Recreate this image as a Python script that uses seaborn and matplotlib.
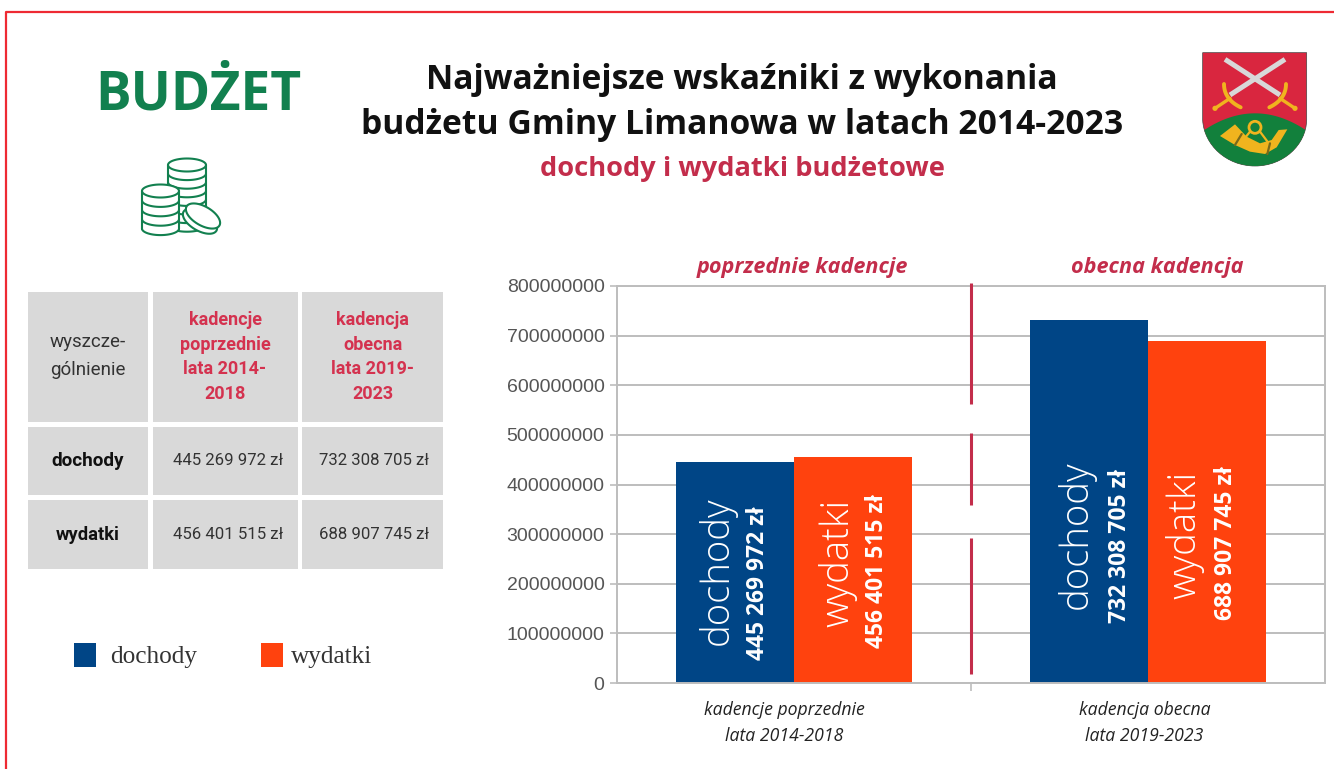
#!/usr/bin/env python3
"""Budget chart of Gmina Limanowa: income and spending per term."""

import numpy as np
import pandas as pd
import matplotlib
matplotlib.use("Agg")
import matplotlib.pyplot as plt
from matplotlib.patches import Circle, PathPatch, Polygon, Rectangle
from matplotlib.path import Path
from matplotlib.transforms import ScaledTranslation
import seaborn as sns

# Data
terms = ["kadencje poprzednie\nlata 2014-2018", "kadencja obecna\nlata 2019-2023"]
income = [445269972, 732308705]
spending = [456401515, 688907745]
series_names = ["dochody", "wydatki"]
y_ticks = [0, 100000000, 200000000, 300000000, 400000000,
           500000000, 600000000, 700000000, 800000000]
table_headers = ["wyszcze-\ngólnienie", "kadencje\npoprzednie\nlata 2014-\n2018",
                 "kadencja\nobecna\nlata 2019-\n2023"]

NAVY = "#004586"
ORANGE = "#ff420e"
CRIMSON = "#c32d4b"
GREEN = "#12804f"
GREY = "#bdbdbd"
HEAD = "Open Sans"


def money(value):
    return f"{value:,}".replace(",", " ") + " zł"


def half_ring(ax, cx, cy, rx, ry):
    t = np.linspace(0, np.pi, 40)
    ax.plot(cx + rx * np.cos(t), cy + ry * np.sin(t), color=GREEN, lw=1.5, zorder=6)


def coin_stack(ax, cx, top, rx, ry, layers, step):
    height = layers * step
    ax.add_patch(Rectangle((cx - rx, top), 2 * rx, height, fc="white", ec="none", zorder=6))
    t = np.linspace(0, 2 * np.pi, 60)
    ax.fill(cx + rx * np.cos(t), top + ry * np.sin(t), fc="white", ec=GREEN, lw=1.5, zorder=6)
    ax.plot([cx - rx, cx - rx], [top, top + height], color=GREEN, lw=1.5, zorder=6)
    ax.plot([cx + rx, cx + rx], [top, top + height], color=GREEN, lw=1.5, zorder=6)
    t = np.linspace(0, np.pi, 40)
    ax.fill(cx + rx * np.cos(t), top + height + ry * np.sin(t), fc="white", ec="none", zorder=6)
    for i in range(1, layers + 1):
        half_ring(ax, cx, top + i * step, rx, ry)


def draw_coins(ax):
    coin_stack(ax, 187, 165, 19, 6.5, 7, 8.6)
    coin_stack(ax, 160.5, 191, 18.5, 6.5, 4, 9.4)
    # small tilted coin
    t = np.linspace(0, 2 * np.pi, 60)
    a = np.radians(30)
    for off in (6, 0):
        x = 19 * np.cos(t)
        y = 9.5 * np.sin(t) + off
        ax.fill(203 + x * np.cos(a) - y * np.sin(a), 216 + x * np.sin(a) + y * np.cos(a),
                fc="white", ec=GREEN, lw=1.5, zorder=7)


def crest(x, y):
    return 1180 + x / 3, 30 + y / 3


def draw_crest(ax):
    gold = "#f0b41e"
    codes = [Path.MOVETO, Path.LINETO, Path.LINETO, Path.CURVE4, Path.CURVE4, Path.CURVE4,
             Path.CURVE4, Path.CURVE4, Path.CURVE4, Path.CLOSEPOLY]
    outline = [(68, 68), (380, 68), (380, 270), (378, 345), (310, 408), (225, 408),
               (140, 408), (72, 345), (68, 270), (68, 68)]
    shield = Path([crest(*p) for p in outline], codes)
    ax.add_patch(PathPatch(shield, fc="#d9263f", ec="#444444", lw=0.5, zorder=6))
    hill = Polygon([crest(x, 250 + 52 * ((x - 225) / 155) ** 2) for x in np.linspace(60, 390, 50)]
                   + [crest(390, 420), crest(60, 420)], fc="#12803c", ec="none", zorder=6)
    ax.add_patch(hill)
    hill.set_clip_path(PathPatch(shield, transform=ax.transData))
    for sign in (1, -1):
        fx = lambda v: 225 + sign * (v - 225)
        p0, p1 = crest(fx(135), 88), crest(fx(300), 195)
        ax.plot([p0[0], p1[0]], [p0[1], p1[1]], color="#d8d8d8", lw=3.6, solid_capstyle="butt", zorder=7)
        s = np.linspace(0, 1, 20)
        gx = (1 - s) ** 2 * fx(318) + 2 * s * (1 - s) * fx(318) + s ** 2 * fx(268)
        gy = (1 - s) ** 2 * 162 + 2 * s * (1 - s) * 208 + s ** 2 * 232
        ax.plot(1180 + gx / 3, 30 + gy / 3, color=gold, lw=2.8, zorder=8)
        p2, p3 = crest(fx(300), 205), crest(fx(345), 235)
        ax.plot([p2[0], p3[0]], [p2[1], p3[1]], color=gold, lw=2.4, zorder=8)
        ax.add_patch(Circle(p3, 2.6, fc=gold, ec="none", zorder=8))
    horn = [(120, 318), (165, 345), (210, 365), (255, 372), (290, 352), (322, 298), (296, 300),
            (275, 330), (240, 340), (200, 320), (165, 283)]
    ax.add_patch(Polygon([crest(*p) for p in horn], fc=gold, ec="none", zorder=7))
    ax.add_patch(Circle(crest(225, 292), 6, fc="none", ec=gold, lw=2, zorder=7))
    for a, b in (((240, 305), (270, 345)), ((210, 305), (190, 330)),
                 ((185, 312), (165, 345)), ((270, 340), (262, 372))):
        p, q = crest(*a), crest(*b)
        ax.plot([p[0], q[0]], [p[1], q[1]], color=gold if a[1] == 305 else "#7a6a1a", lw=1.6, zorder=8)


sns.set_theme(style="whitegrid")
plt.rcParams["font.family"] = ["Liberation Sans", "DejaVu Sans"]

fig = plt.figure(figsize=(13.34, 7.69), dpi=100, facecolor="white")

# Chart
ax = fig.add_axes([617 / 1334, 1 - 683 / 769, 708 / 1334, 397 / 769])
df = pd.DataFrame({
    "kadencja": terms + terms,
    "kwota": income + spending,
    "rodzaj": [series_names[0]] * 2 + [series_names[1]] * 2,
})
sns.barplot(data=df, x="kadencja", y="kwota", hue="rodzaj", palette=[NAVY, ORANGE],
            width=0.665, gap=0, saturation=1, linewidth=0, legend=False, ax=ax)
ax.set_xlim(-0.5, 1.5)
ax.set_ylim(0, 800000000)
ax.set_xlabel("")
ax.set_ylabel("")
ax.set_yticks(y_ticks)
ax.set_yticklabels([str(v) for v in y_ticks], fontsize=14, color="#555555")
ax.grid(axis="x", visible=False)
ax.grid(axis="y", color=GREY, lw=1.4)
ax.set_axisbelow(True)
for side in ax.spines.values():
    side.set_color(GREY)
    side.set_linewidth(1.4)
ax.tick_params(axis="y", length=5, width=1.2, color=GREY, pad=4, left=True)
ax.tick_params(axis="x", which="major", length=0, pad=13)
ax.set_xticks([0.5], minor=True)
ax.tick_params(axis="x", which="minor", length=6, width=1.2, color=GREY, bottom=True)
for lab, shift in zip(ax.get_xticklabels(), (-10, -3.5)):
    lab.set(fontfamily=HEAD, fontstyle="italic", fontsize=12.7, color="#222222", linespacing=1.55)
    lab.set_transform(lab.get_transform() + ScaledTranslation(shift / 100, 0, fig.dpi_scale_trans))

# Rotated labels in the bars, offsets in pixels from the foot of each bar
bars = [b for c in ax.containers for b in c]
name_offsets = [(-18, 38), (-13, 74), (-15, 56), (-22, 84)]
value_offsets = [(23, 23), (31, 60), (24, 35), (19, 63)]
names = [series_names[0]] * 2 + [series_names[1]] * 2
values = income + spending
for bar, name, value, off_n, off_v in zip(bars, names, values, name_offsets, value_offsets):
    foot = (bar.get_x() + bar.get_width() / 2, 0)
    ax.annotate(name, foot, xytext=off_n, textcoords="offset pixels", rotation=90, color="white",
                ha="center", va="bottom", fontfamily=HEAD, fontsize=27.5, fontweight="light")
    ax.annotate(money(value), foot, xytext=off_v, textcoords="offset pixels", rotation=90, color="white",
                ha="center", va="bottom", fontfamily=HEAD, fontsize=16.5, fontweight="bold")

# Page layer in pixel coordinates
page = fig.add_axes([0, 0, 1, 1], zorder=5)
page.set_xlim(0, 1334)
page.set_ylim(769, 0)
page.axis("off")
page.patch.set_alpha(0)

page.plot([6, 6, 1334], [769, 12, 12], color="#ee2a33", lw=1.6)

page.text(198, 96, "BUDŻET", color=GREEN, fontfamily=HEAD, fontsize=38.3, fontweight="bold",
          ha="center", va="center")
page.text(742, 80, "Najważniejsze wskaźniki z wykonania", color="#111111", fontfamily=HEAD,
          fontsize=24.2, fontweight="bold", ha="center", va="center")
page.text(742, 125, "budżetu Gminy Limanowa w latach 2014-2023", color="#111111", fontfamily=HEAD,
          fontsize=24.2, fontweight="bold", ha="center", va="center")
page.text(742, 169, "dochody i wydatki budżetowe", color=CRIMSON, fontfamily=HEAD,
          fontsize=19.6, fontweight="bold", ha="center", va="center")
page.text(802, 268, "poprzednie kadencje", color=CRIMSON, fontfamily=HEAD, fontsize=15.6,
          fontweight="bold", fontstyle="italic", ha="center", va="center")
page.text(1157, 268, "obecna kadencja", color=CRIMSON, fontfamily=HEAD, fontsize=15.6,
          fontweight="bold", fontstyle="italic", ha="center", va="center")

draw_coins(page)
draw_crest(page)

# Break line between the terms
for y0, y1 in ((283, 404), (433, 505), (538, 674)):
    page.plot([971, 971], [y0, y1], color=CRIMSON, lw=2.2, solid_capstyle="butt")

# Table
col_edges = [(28, 148), (152.5, 297.5), (302, 443)]
row_edges = [(292, 422), (426.5, 495), (500, 569)]
for x0, x1 in col_edges:
    for y0, y1 in row_edges:
        page.add_patch(Rectangle((x0, y0), x1 - x0, y1 - y0, fc="#d9d9d9", ec="none"))


def cell(col, row, text, dx=0, dy=0, **kw):
    x0, x1 = col_edges[col]
    y0, y1 = row_edges[row]
    page.text((x0 + x1) / 2 + dx, (y0 + y1) / 2 + dy, text, fontfamily="Roboto", ha="center", va="center", **kw)


cell(0, 0, table_headers[0], dy=-1, fontsize=13.5, color="#333333", linespacing=1.68)
cell(1, 0, table_headers[1], fontsize=13, color="#d4324f", fontweight="bold", linespacing=1.48)
cell(2, 0, table_headers[2], fontsize=13, color="#d4324f", fontweight="bold", linespacing=1.48)
cell(0, 1, series_names[0], fontsize=13.6, color="#111111", fontweight="bold")
cell(0, 2, series_names[1], fontsize=13.2, color="#111111", fontweight="bold")
for col, (a, b), dx in zip((1, 2), zip(income, spending), (3, 1.5)):
    cell(col, 1, money(a), dx=dx, fontsize=12.1, color="#333333")
    cell(col, 2, money(b), dx=dx, fontsize=12.1, color="#333333")

# Legend
for x, tx, name, colour in ((74, 110, series_names[0], NAVY), (261, 291, series_names[1], ORANGE)):
    page.add_patch(Rectangle((x, 643), 22, 24, fc=colour, ec="none"))
    page.text(tx, 657, name, fontfamily="Liberation Serif", fontsize=18.2, color="#333333",
              ha="left", va="center")

fig.savefig("out.png", dpi=100)
